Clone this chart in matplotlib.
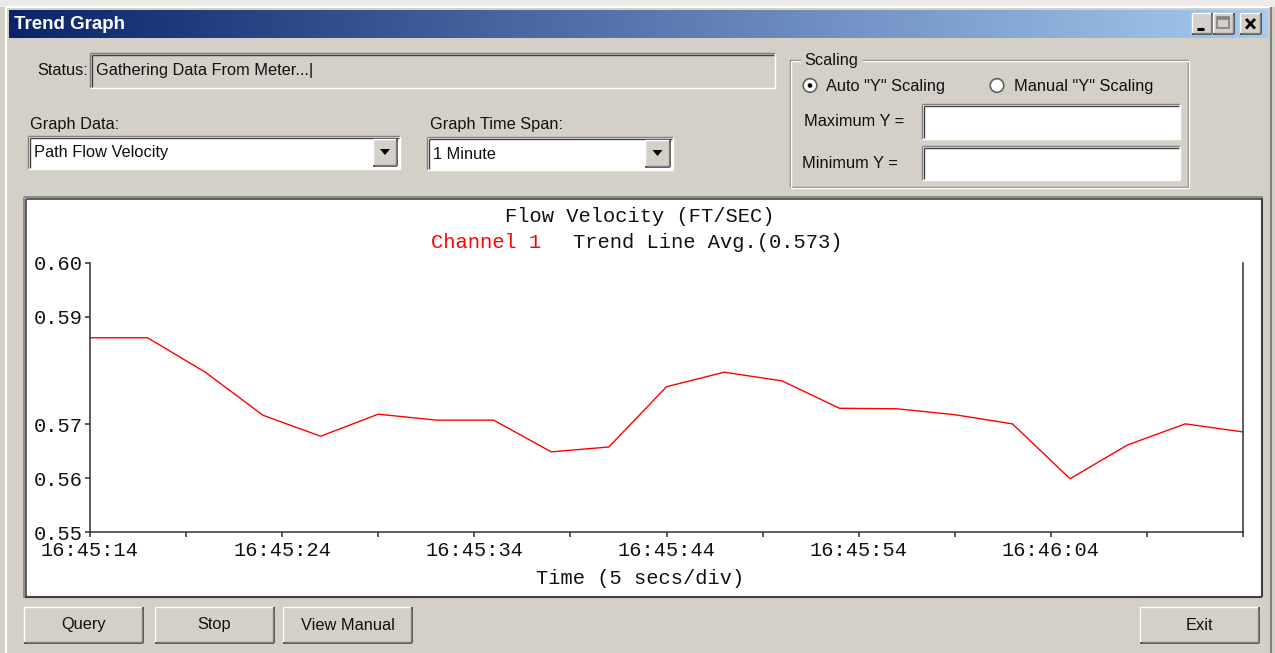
import numpy as np
import matplotlib
matplotlib.use("Agg")
import matplotlib.pyplot as plt
from matplotlib.patches import Rectangle, Circle, Polygon
from matplotlib.colors import LinearSegmentedColormap

# ---------------- data ----------------
seconds = [0, 3, 6, 9, 12, 15, 18, 21, 24, 27, 30, 33, 36, 39, 42, 45, 48, 51, 54, 57, 60]
velocity = [0.5861, 0.5861, 0.5797, 0.5717, 0.5678, 0.5719, 0.5708, 0.5708, 0.5649, 0.5658,
            0.5770, 0.5797, 0.5781, 0.5730, 0.5729, 0.5718, 0.5701, 0.5599, 0.5662, 0.5701, 0.5686]
x_ticks = [0, 5, 10, 15, 20, 25, 30, 35, 40, 45, 50, 55, 60]
x_tick_labels = ["16:45:14", "", "16:45:24", "", "16:45:34", "", "16:45:44", "",
                 "16:45:54", "", "16:46:04", "", ""]
y_ticks = [0.55, 0.56, 0.57, 0.59, 0.60]
y_tick_labels = ["0.55", "0.56", "0.57", "0.59", "0.60"]
chart_title = "Flow Velocity (FT/SEC)"
series_name = "Channel 1"
trend_text = "Trend Line Avg.(0.573)"
x_label = "Time (5 secs/div)"

W, H = 1275, 653
BG = "#D4D0C8"
UI_FONT = ["Liberation Sans", "DejaVu Sans"]
MONO = ["Liberation Mono", "DejaVu Sans Mono"]
UI_SIZE = 11.8

fig = plt.figure(figsize=(W / 100, H / 100), dpi=100)
fig.patch.set_facecolor(BG)

ui = fig.add_axes([0, 0, 1, 1])
ui.set_xlim(0, W)
ui.set_ylim(H, 0)
ui.axis("off")
ui.set_zorder(0)


def line(x0, y0, x1, y1, c, lw=1.0, z=2):
    ui.plot([x0, x1], [y0, y1], color=c, lw=lw, solid_capstyle="butt", zorder=z)


def sunken(x0, y0, x1, y1, fill="white", z=1):
    ui.add_patch(Rectangle((x0, y0), x1 - x0, y1 - y0, facecolor=fill, edgecolor="none", zorder=z))
    line(x0, y0, x1, y0, "#808080", z=z + 1)
    line(x0, y0, x0, y1, "#808080", z=z + 1)
    line(x0 + 1.5, y0 + 1.5, x1 - 1.5, y0 + 1.5, "#404040", z=z + 1)
    line(x0 + 1.5, y0 + 1.5, x0 + 1.5, y1 - 1.5, "#404040", z=z + 1)
    line(x0, y1, x1, y1, "white", z=z + 1)
    line(x1, y0, x1, y1, "white", z=z + 1)


def raised(x0, y0, x1, y1, z=1):
    ui.add_patch(Rectangle((x0, y0), x1 - x0, y1 - y0, facecolor=BG, edgecolor="none", zorder=z))
    line(x0, y0, x1, y0, "white", z=z + 1)
    line(x0, y0, x0, y1, "white", z=z + 1)
    line(x0, y1, x1, y1, "#404040", lw=1.2, z=z + 1)
    line(x1, y0, x1, y1, "#404040", lw=1.2, z=z + 1)
    line(x0 + 1.5, y1 - 1.5, x1 - 1.5, y1 - 1.5, "#808080", z=z + 1)
    line(x1 - 1.5, y0 + 1.5, x1 - 1.5, y1 - 1.5, "#808080", z=z + 1)


def uitext(x, y, s, size=UI_SIZE, ha="left", color="#111111", weight="normal", fam=UI_FONT, z=5):
    ui.text(x, y, s, ha=ha, va="center", fontsize=size, color=color, fontweight=weight,
            family=fam, zorder=z)


# window frame
ui.add_patch(Rectangle((0, 0), W, 7, facecolor="#ECEAE6", edgecolor="none", zorder=0.5))
line(6, 7, 1271, 7, "white", lw=1.5)
line(6, 7, 6, H, "white", lw=1.5)
line(1271, 7, 1271, H, "#808080", lw=1.5)

# title bar gradient
grad = np.linspace(0, 1, 512).reshape(1, -1)
cmap = LinearSegmentedColormap.from_list("tb", ["#0A246A", "#A6CAF0"])
ui.imshow(grad, cmap=cmap, extent=[9, 1268, 38, 10], aspect="auto", zorder=1)
ui.set_xlim(0, W)
ui.set_ylim(H, 0)
uitext(14, 24.5, "Trend Graph", size=13.5, color="white", weight="bold", z=6)

# title buttons
for bx0, bx1 in [(1192, 1212), (1213, 1234), (1240, 1261)]:
    raised(bx0, 13, bx1, 34, z=3)
line(1197, 29, 1204, 29, "black", lw=2.2, z=6)
ui.add_patch(Rectangle((1217, 17), 12, 11, facecolor="none", edgecolor="#808080", lw=1.2, zorder=6))
line(1217, 18, 1229, 18, "#808080", lw=1.8, z=6)
line(1246, 19, 1255, 28.5, "black", lw=2.0, z=6)
line(1246, 28.5, 1255, 19, "black", lw=2.0, z=6)

# status
uitext(37, 70.5, "Status:")
sunken(90, 53, 775, 88, fill=BG)
uitext(96, 70.5, "Gathering Data From Meter...|")

# graph data combo
uitext(30, 125, "Graph Data:")
sunken(28, 136, 400, 169, fill="white")
raised(373, 139, 397, 166, z=3)
ui.add_patch(Polygon([[380, 149], [390, 149], [385, 155]], closed=True, facecolor="black",
                     edgecolor="none", zorder=6))
uitext(34, 153, "Path Flow Velocity")

# time span combo
uitext(430, 125, "Graph Time Span:")
sunken(427, 137, 673, 170, fill="white")
raised(645, 140, 670, 167, z=3)
ui.add_patch(Polygon([[652.5, 150], [662.5, 150], [657.5, 156]], closed=True, facecolor="black",
                     edgecolor="none", zorder=6))
uitext(433, 154.5, "1 Minute")

# scaling group
for (a, b, c, d, col) in [(790, 60, 1188, 60, "#808080"), (790, 60, 790, 187, "#808080"),
                          (790, 187, 1188, 187, "#808080"), (1188, 60, 1188, 187, "#808080"),
                          (791, 61, 1189, 61, "white"), (791, 61, 791, 188, "white"),
                          (791, 188, 1189, 188, "white"), (1189, 61, 1189, 188, "white")]:
    line(a, b, c, d, col, lw=1.0)
ui.add_patch(Rectangle((801, 52), 62, 16, facecolor=BG, edgecolor="none", zorder=3))
uitext(804, 61, "Scaling")
for cx in (810, 997):
    ui.add_patch(Circle((cx, 85.5), 6.8, facecolor="white", edgecolor="#606060", lw=1.2, zorder=4))
ui.add_patch(Circle((810, 85.5), 2.3, facecolor="black", edgecolor="none", zorder=5))
uitext(826, 86, 'Auto "Y" Scaling')
uitext(1014, 86, 'Manual "Y" Scaling')
uitext(804, 121, "Maximum Y =")
sunken(922, 104, 1180, 139, fill="white")
uitext(802, 164, "Minimum Y =")
sunken(922, 146, 1180, 180, fill="white")

# chart panel
ui.add_patch(Rectangle((25, 198), 1237, 399, facecolor="white", edgecolor="none", zorder=1))
line(24, 197, 1263, 197, "#808080", lw=1.2)
line(24, 197, 24, 598, "#808080", lw=1.2)
line(25.5, 198.5, 1262, 198.5, "#404040", lw=1.2)
line(25.5, 198.5, 25.5, 597, "#404040", lw=1.2)
line(25, 597, 1262, 597, "#404040", lw=1.5)
line(1262, 198, 1262, 597, "#404040", lw=1.5)

# chart titles
uitext(640, 217, chart_title, size=14.7, ha="center", fam=MONO)
uitext(431, 243, series_name, size=14.7, color="#FF0000", fam=MONO)
uitext(573, 243, trend_text, size=14.7, fam=MONO)
uitext(640, 578, x_label, size=14.7, ha="center", fam=MONO)

# buttons
for (bx0, bx1, lab) in [(24, 143, "Query"), (155, 274, "Stop"), (283, 412, "View Manual"), (1140, 1259, "Exit")]:
    raised(bx0, 607, bx1, 643, z=2)
    uitext((bx0 + bx1) / 2, 625, lab, ha="center")

# ---------------- chart ----------------
ax = fig.add_axes([90 / W, (H - 532) / H, (1243 - 90) / W, (532 - 263) / H])
ax.set_zorder(2)
ax.patch.set_alpha(0)
ax.plot(seconds, velocity, color="#FF0000", lw=1.0)
ax.set_xlim(0, 60)
ax.set_ylim(0.55, 0.60)
ax.set_xticks(x_ticks)
ax.set_xticklabels(x_tick_labels)
ax.set_yticks(y_ticks)
ax.set_yticklabels(y_tick_labels)
ax.spines["top"].set_visible(False)
for s in ("left", "bottom", "right"):
    ax.spines[s].set_color("#303030")
    ax.spines[s].set_linewidth(1.1)
ax.tick_params(axis="both", direction="out", length=3.8, width=1.1, color="#303030",
               labelsize=14.7, labelcolor="#111111")
ax.tick_params(axis="y", pad=1.5)
ax.tick_params(axis="x", pad=3.0)
for lbl in ax.get_xticklabels() + ax.get_yticklabels():
    lbl.set_family(MONO)

fig.savefig("out.png", dpi=100, facecolor=BG)
